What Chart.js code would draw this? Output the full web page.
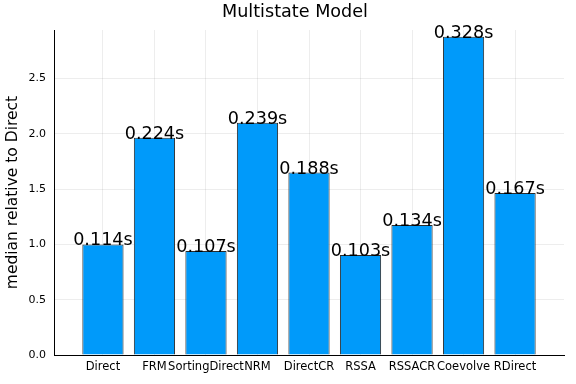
<!DOCTYPE html>
<html>
<head>
<meta charset="utf-8">
<script src="https://cdn.jsdelivr.net/npm/chart.js"></script>
<style>
  html, body { margin: 0; padding: 0; background: #fff; }
  #wrap { width: 576px; height: 384px; }
</style>
</head>
<body>
<div id="wrap"><canvas id="chart" width="576" height="384"></canvas></div>
<script>
const methods = ['Direct', 'FRM', 'SortingDirect', 'NRM', 'DirectCR', 'RSSA', 'RSSACR', 'Coevolve', 'RDirect'];
const relMedian = [1.0, 1.965, 0.94, 2.10, 1.65, 0.905, 1.175, 2.88, 1.465];
const timeLabels = ['0.114s', '0.224s', '0.107s', '0.239s', '0.188s', '0.103s', '0.134s', '0.328s', '0.167s'];
const yTicks = [0, 0.5, 1.0, 1.5, 2.0, 2.5];
const chartTitle = 'Multistate Model';

const FONT = '"DejaVu Sans", sans-serif';

// bar annotations at the top of each bar, plus the title
const barLabels = {
  id: 'barLabels',
  afterDatasetsDraw(chart) {
    const ctx = chart.ctx;
    const meta = chart.getDatasetMeta(0);
    ctx.save();
    ctx.font = '17.6px ' + FONT;
    ctx.fillStyle = '#000';
    ctx.textAlign = 'center';
    ctx.textBaseline = 'alphabetic';
    meta.data.forEach((bar, i) => {
      ctx.fillText(timeLabels[i], bar.x, bar.y + 1);
    });
    ctx.font = '17.6px ' + FONT;
    ctx.textBaseline = 'middle';
    ctx.fillText(chartTitle, 295, 12);
    ctx.restore();
  }
};

new Chart(document.getElementById('chart'), {
  type: 'bar',
  data: {
    datasets: [{
      data: methods.map((m, i) => ({ x: i, y: relMedian[i] })),
      backgroundColor: '#009AFA',
      borderColor: '#2a2a2a',
      borderWidth: 1,
      barPercentage: 0.8,
      categoryPercentage: 1.0
    }]
  },
  options: {
    responsive: false,
    animation: false,
    layout: { padding: { top: 30, right: 12, left: 2, bottom: 0 } },
    plugins: {
      legend: { display: false },
      tooltip: { enabled: false },
      title: { display: false }
    },
    scales: {
      x: {
        type: 'linear',
        offset: false,
        min: -0.95,
        max: 8.95,
        afterBuildTicks: (scale) => {
          scale.ticks = methods.map((m, i) => ({ value: i }));
        },
        afterFit: (scale) => { scale.height = 29; },
        ticks: {
          autoSkip: false,
          maxRotation: 0,
          padding: 5,
          color: '#000',
          font: { family: FONT, size: 11.5 },
          callback: (v) => methods[v]
        },
        grid: { offset: false, color: 'rgba(0,0,0,0.07)', drawTicks: false },
        border: { color: '#000', width: 1 }
      },
      y: {
        min: 0,
        max: 2.94,
        afterBuildTicks: (scale) => {
          scale.ticks = yTicks.map(v => ({ value: v }));
        },
        afterFit: (scale) => { scale.width = 52; },
        ticks: {
          padding: 8,
          color: '#000',
          font: { family: FONT, size: 11 },
          callback: (v) => v.toFixed(1)
        },
        grid: { color: 'rgba(0,0,0,0.07)', drawTicks: false },
        border: { color: '#000', width: 1 },
        title: {
          display: true,
          text: 'median relative to Direct',
          color: '#000',
          font: { family: FONT, size: 15.5 },
          padding: { top: 2, bottom: 4 }
        }
      }
    }
  },
  plugins: [barLabels]
});
</script>
</body>
</html>
